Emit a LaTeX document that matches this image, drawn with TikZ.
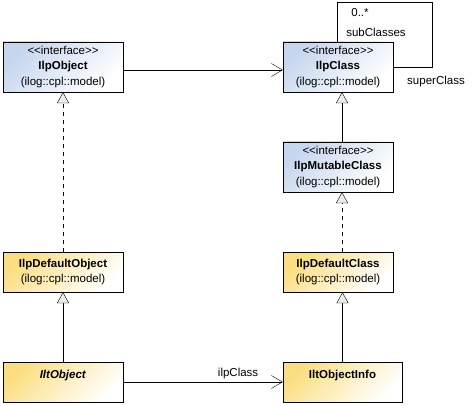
\documentclass[tikz,border=0pt]{standalone}
\usepackage{fontspec}
\setmainfont{Liberation Sans}
\usetikzlibrary{arrows.meta,positioning}
\definecolor{ifcblue}{RGB}{198,214,238}
\definecolor{implyellow}{RGB}{251,222,128}
\definecolor{tipgray}{RGB}{236,236,236}
\newcommand{\stereo}[1]{<\kern0pt<#1>\kern0pt>}

\begin{document}
\begin{tikzpicture}[x=1pt,y=-1pt,font=\fontsize{11.5}{15.5}\selectfont,
  ifc/.style={draw,align=center,inner sep=0pt,minimum width=120pt,minimum height=50pt,
    left color=ifcblue,right color=white,shading angle=45},
  impl/.style={draw,align=center,inner sep=0pt,minimum width=120pt,minimum height=40pt,
    left color=implyellow,right color=white,shading angle=45},
  ext/.style={-{Triangle[fill=tipgray,length=11pt,width=12pt]}},
  real/.style={ext,dash pattern=on 4pt off 4pt},
  nav/.style={-{Straight Barb[length=11pt,width=13pt]}}]
  \useasboundingbox (0,0) rectangle (476,406);
  \node[ifc] (obj) at (63,67) {\stereo{interface}\\\textbf{IlpObject}\\(ilog::cpl::model)};
  \node[ifc,minimum width=110pt] (cls) at (338,67) {\stereo{interface}\\\textbf{IlpClass}\\(ilog::cpl::model)};
  \node[ifc,minimum width=110pt] (mut) at (338,167) {\stereo{interface}\\\textbf{IlpMutableClass}\\(ilog::cpl::model)};
  \node[impl] (dobj) at (63,272) {\textbf{IlpDefaultObject}\\(ilog::cpl::model)};
  \node[impl,minimum width=110pt] (dcls) at (338,272) {\textbf{IlpDefaultClass}\\(ilog::cpl::model)};
  \node[impl] (itobj) at (63,382) {\textbf{\textit{IltObject}}\\\mbox{}};
  \node[impl,minimum width=119pt] (info) at (342.5,382) {\textbf{IltObjectInfo}\\\mbox{}};
  \coordinate (loopa) at (337,2);
  \coordinate (loopb) at (432,67);
  \draw[nav] (obj.east |- 0,70) -- (cls.west |- 0,70);
  \draw[real] (dobj) -- (obj);
  \draw[ext] (itobj) -- (dobj);
  \draw[ext] (mut.north -| 342,0) -- (cls.south -| 342,0);
  \draw[real] (dcls.north -| 342,0) -- (mut.south -| 342,0);
  \draw[ext] (info.north) -- (info.north |- dcls.south);
  \draw[nav] (itobj) -- node[above,pos=0.72] (ilp) {ilpClass} (info);
  \draw (cls.north -| loopa) -- (loopa) -| (loopb) -- (cls.east |- loopb);
  \node (mult) at (360,13) {0..*};
  \node (sub) at (376,32) {subClasses};
  \node (super) at (436,82) {superClass};
\end{tikzpicture}
\end{document}
